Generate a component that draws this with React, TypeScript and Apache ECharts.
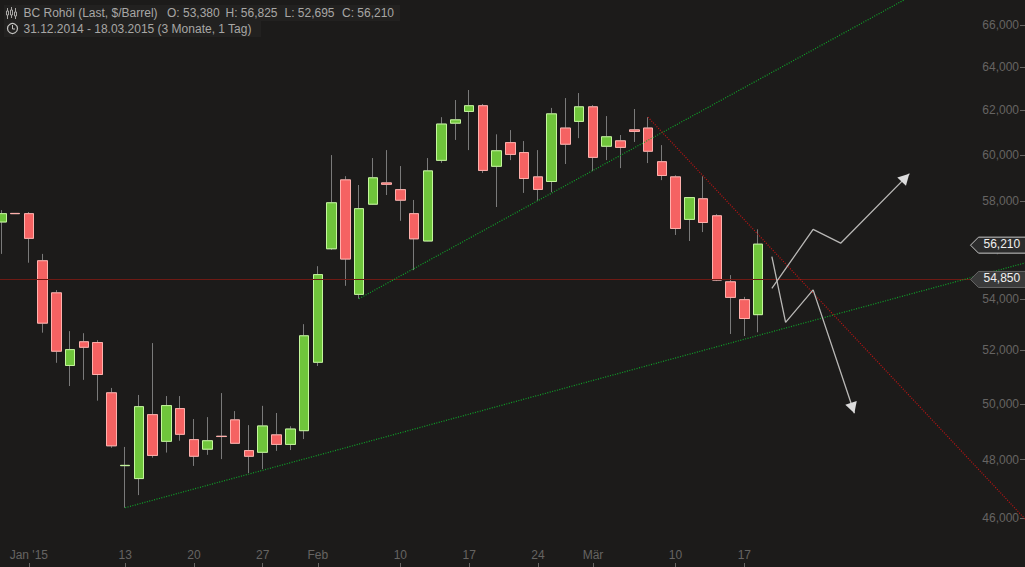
import React, { useEffect, useRef } from "react";
import * as echarts from "echarts";

const tradingDays = [
  "2014-12-31","2015-01-01","2015-01-02","2015-01-05","2015-01-06","2015-01-07","2015-01-08","2015-01-09","2015-01-12",
  "2015-01-13","2015-01-14","2015-01-15","2015-01-16","2015-01-19","2015-01-20","2015-01-21","2015-01-22","2015-01-23",
  "2015-01-26","2015-01-27","2015-01-28","2015-01-29","2015-01-30","2015-02-02","2015-02-03","2015-02-04","2015-02-05",
  "2015-02-06","2015-02-09","2015-02-10","2015-02-11","2015-02-12","2015-02-13","2015-02-16","2015-02-17","2015-02-18",
  "2015-02-19","2015-02-20","2015-02-23","2015-02-24","2015-02-25","2015-02-26","2015-02-27","2015-03-02","2015-03-03",
  "2015-03-04","2015-03-05","2015-03-06","2015-03-09","2015-03-10","2015-03-11","2015-03-12","2015-03-13","2015-03-16",
  "2015-03-17","2015-03-18",
];
const futureSlots = ["+1","+2","+3","+4","+5","+6","+7","+8","+9","+10","+11","+12","+13","+14","+15","+16","+17","+18","+19","+20"];

const opens = [57130,57490,57480,55530,54240,51430,52330,52300,50410,47790,47340,49610,48650,49830,48710,48370,48830,49420,48320,48260,48880,48540,49030,51550,56020,58920,54180,57880,58790,58500,57480,56340,59770,61420,61950,62210,59510,60550,60110,59050,58850,61200,61500,62160,60390,60630,61120,61200,59710,59050,57240,58110,57390,54680,53970,53380];
const highs = [57630,57490,57550,55810,54350,52740,52660,52390,50590,48450,50330,52280,50290,50290,49450,49520,50400,49740,49230,49930,49670,49190,53010,55310,60000,59080,58700,59870,60220,59520,58060,59870,61690,62470,62930,62290,60920,61110,60620,60220,62110,62560,62790,62240,61740,60890,62060,61690,60440,59120,58170,59080,57460,54950,54080,56825];
const lows = [55810,57480,55450,52680,51530,50660,50890,50120,48420,46340,46770,48070,48250,48670,47780,48170,48020,48570,47530,47670,48310,48340,48730,51410,55970,54520,54010,57850,58270,57180,55150,56330,59660,60670,60220,59220,57760,59780,58360,58030,58390,59610,60750,59300,59780,59430,60580,59650,58910,56590,56340,56710,54710,52630,52550,52695];
const closes = [57480,57480,56450,53050,51970,52030,52120,51090,48490,47800,49900,48150,49940,48900,48120,48670,48820,48580,48120,49200,48540,49090,52560,54970,57940,55600,57690,59010,58730,58050,56430,59310,61380,61570,62210,59330,60190,60030,58980,58510,61840,60480,62160,59900,60810,60340,61050,60170,59110,56860,58160,57110,54750,54060,53230,56210];

const tickDates = ["2015-01-02","2015-01-13","2015-01-20","2015-01-27","2015-02-02","2015-02-10","2015-02-17","2015-02-24","2015-03-02","2015-03-10","2015-03-17"];
const tickLabels = ["Jan '15","13","20","27","Feb","10","17","24","Mär","10","17"];
const priceTicks = [46000,48000,50000,52000,54000,56000,58000,60000,62000,64000,66000];

const supportLine = [[9, 46340], [75, 55535]];
const channelLine = [[26, 54010], [66, 67368]];
const resistanceLine = [[47, 61690], [75, 45665]];
const scenarioUp = [[56, 54420], [59, 56820], [61, 56250], [66, 59190]];
const scenarioDown = [[56, 55700], [57, 53080], [59, 54360], [62, 49660]];
const lastPrice = 56210;
const levelPrice = 54775;
const levelLabel = "54,850";
const lastLabel = "56,210";

const headerTitle = "BC Rohöl (Last, $/Barrel)";
const headerOhlc = ["O: 53,380", "H: 56,825", "L: 52,695", "C: 56,210"];
const headerRange = "31.12.2014 - 18.03.2015 (3 Monate, 1 Tag)";

const BG = "#1c1b1a";
const UP = "#6fc53b";
const DOWN = "#f56262";
const UP_EDGE = "#c4f79c";
const DOWN_EDGE = "#ffb0ac";
const FONT = "Liberation Sans";
const MUTED = "#666462";

const STEP = 13.76;
const LEFT = 1.3 - STEP / 2;

function arrowPoints(points: number[][], rotate: number, offset: number[]) {
  return points.map((p, i) =>
    i === points.length - 1
      ? { value: p, symbol: "triangle", symbolSize: [12, 11], symbolRotate: rotate, symbolOffset: offset, itemStyle: { color: "#dcdcdc" } }
      : { value: p, symbol: "none" },
  );
}

function trend(name: string, data: number[][], color: string) {
  return {
    type: "line", name, data, symbol: "none", silent: true, z: 5, clip: true,
    lineStyle: { color, width: 1.2, type: [1, 1.5] },
  };
}

function scenario(name: string, data: any[]) {
  return {
    type: "line", name, data, showSymbol: true, showAllSymbol: true, silent: true, z: 6,
    lineStyle: { color: "#b9b8b6", width: 1.3 },
  };
}

function tag(y: number, label: string, fill: string, stroke: string) {
  return {
    type: "group", x: 970.5, y,
    children: [
      { type: "polygon", z: 50, shape: { points: [[0, 0], [8, -8], [55, -8], [55, 8], [8, 8]] }, style: { fill, stroke, lineWidth: 1 } },
      { type: "text", z: 51, x: 13, y: -7, style: { text: label, fill: "#f0f0f0", font: `12px "${FONT}"` } },
    ],
  };
}

export default function App() {
  const ref = useRef<HTMLDivElement>(null);
  useEffect(() => {
    document.body.style.margin = "0";
    document.body.style.background = BG;
    const chart = echarts.init(ref.current!, null, { renderer: "svg" });
    const categories = [...tradingDays, ...futureSlots];
    const isTick = (i: number) => tickDates.includes(categories[i]);
    const gridWidth = categories.length * STEP;
    const wicks = opens.map((o, i) => [o, closes[i], lows[i], highs[i]]);
    const bodies = opens.map((o, i) => [o, closes[i], Math.min(o, closes[i]), Math.max(o, closes[i])]);

    const text = (x: number, y: number, t: string) => ({
      type: "text", x, y, z: 41, style: { text: t, fill: "#a8a7a5", font: `12px "${FONT}"` },
    });

    chart.setOption({
      animation: false,
      backgroundColor: BG,
      grid: { left: LEFT, top: 0, width: gridWidth, height: 567, outerBoundsMode: "none", containLabel: false },
      xAxis: {
        type: "category", data: categories, boundaryGap: true,
        axisLine: { show: false },
        axisTick: { show: true, inside: true, length: 4, alignWithLabel: true, interval: (i: number) => isTick(i), lineStyle: { color: MUTED } },
        axisLabel: {
          show: true, inside: true, margin: 6, color: MUTED, fontFamily: FONT, fontSize: 12, hideOverlap: false,
          interval: (i: number) => isTick(i),
          formatter: (v: string) => tickLabels[tickDates.indexOf(v)] ?? "",
        },
        splitLine: { show: false },
      },
      yAxis: {
        type: "log", position: "right", offset: 1025 - (LEFT + gridWidth), min: 44370, max: 67220,
        axisLine: { show: false },
        axisTick: { show: true, inside: true, length: 5, lineStyle: { color: MUTED }, customValues: priceTicks },
        axisLabel: {
          show: true, inside: true, margin: 6, color: MUTED, fontFamily: FONT, fontSize: 12,
          customValues: priceTicks,
          formatter: (v: number) => Math.round(v).toLocaleString("en-US"),
        },
        splitLine: { show: false },
      },
      series: [
        {
          type: "candlestick", name: "wicks", data: wicks, barWidth: 10, silent: true, z: 2,
          itemStyle: { color: "#7a7a7a", color0: "#7a7a7a", borderColor: "#7a7a7a", borderColor0: "#7a7a7a", borderWidth: 1 },
          markLine: {
            silent: true, symbol: "none", label: { show: false },
            lineStyle: { color: "#6e1a14", width: 1, type: "solid" },
            data: [{ yAxis: levelPrice }],
          },
        },
        {
          type: "candlestick", name: "bodies", data: bodies, barWidth: 10, silent: true, z: 3,
          itemStyle: { color: UP, color0: DOWN, borderColor: UP_EDGE, borderColor0: DOWN_EDGE, borderWidth: 1 },
        },
        trend("support", supportLine, "#0fa62a"),
        trend("channel", channelLine, "#0fa62a"),
        trend("resistance", resistanceLine, "#c01414"),
        scenario("up", arrowPoints(scenarioUp, -44, [-4, 4])),
        scenario("down", arrowPoints(scenarioDown, -162, [-1.7, -5.2])),
      ],
    });

    const toY = (v: number) => chart.convertToPixel({ yAxisIndex: 0 }, v) as number;
    chart.setOption({
      graphic: [
        { type: "rect", z: 40, shape: { x: 4, y: 5, width: 396, height: 16 }, style: { fill: "#222120" } },
        { type: "rect", z: 40, shape: { x: 4, y: 21, width: 257, height: 16 }, style: { fill: "#222120" } },
        { type: "line", z: 41, shape: { x1: 7.5, y1: 8, x2: 7.5, y2: 19 }, style: { stroke: "#a8a7a5", lineWidth: 1 } },
        { type: "line", z: 41, shape: { x1: 11.5, y1: 7, x2: 11.5, y2: 18 }, style: { stroke: "#a8a7a5", lineWidth: 1 } },
        { type: "line", z: 41, shape: { x1: 15.5, y1: 8, x2: 15.5, y2: 19 }, style: { stroke: "#a8a7a5", lineWidth: 1 } },
        { type: "rect", z: 41, shape: { x: 6.5, y: 11, width: 2, height: 4 }, style: { fill: "#222120", stroke: "#a8a7a5", lineWidth: 1 } },
        { type: "rect", z: 41, shape: { x: 10.5, y: 10, width: 2, height: 5 }, style: { fill: "#222120", stroke: "#a8a7a5", lineWidth: 1 } },
        { type: "rect", z: 41, shape: { x: 14.5, y: 12, width: 2, height: 4 }, style: { fill: "#222120", stroke: "#a8a7a5", lineWidth: 1 } },
        { type: "circle", z: 41, shape: { cx: 12.5, cy: 28.5, r: 5 }, style: { fill: "none", stroke: "#c4c3c1", lineWidth: 1.2 } },
        { type: "polyline", z: 41, shape: { points: [[12.5, 25], [12.5, 29], [15, 29]] }, style: { fill: "none", stroke: "#c4c3c1", lineWidth: 1 } },
        text(23.5, 7, headerTitle),
        text(167, 7, headerOhlc[0]),
        text(225.5, 7, headerOhlc[1]),
        text(284.5, 7, headerOhlc[2]),
        text(342, 7, headerOhlc[3]),
        text(23.5, 23, headerRange),
        tag(toY(lastPrice) + 1, lastLabel, "#2c2c2c", "#c8c8c8"),
        tag(toY(levelPrice), levelLabel, "#3a3a3a", "#666666"),
      ],
    });
    return () => chart.dispose();
  }, []);
  return <div ref={ref} style={{ width: 1025, height: 567 }} />;
}
